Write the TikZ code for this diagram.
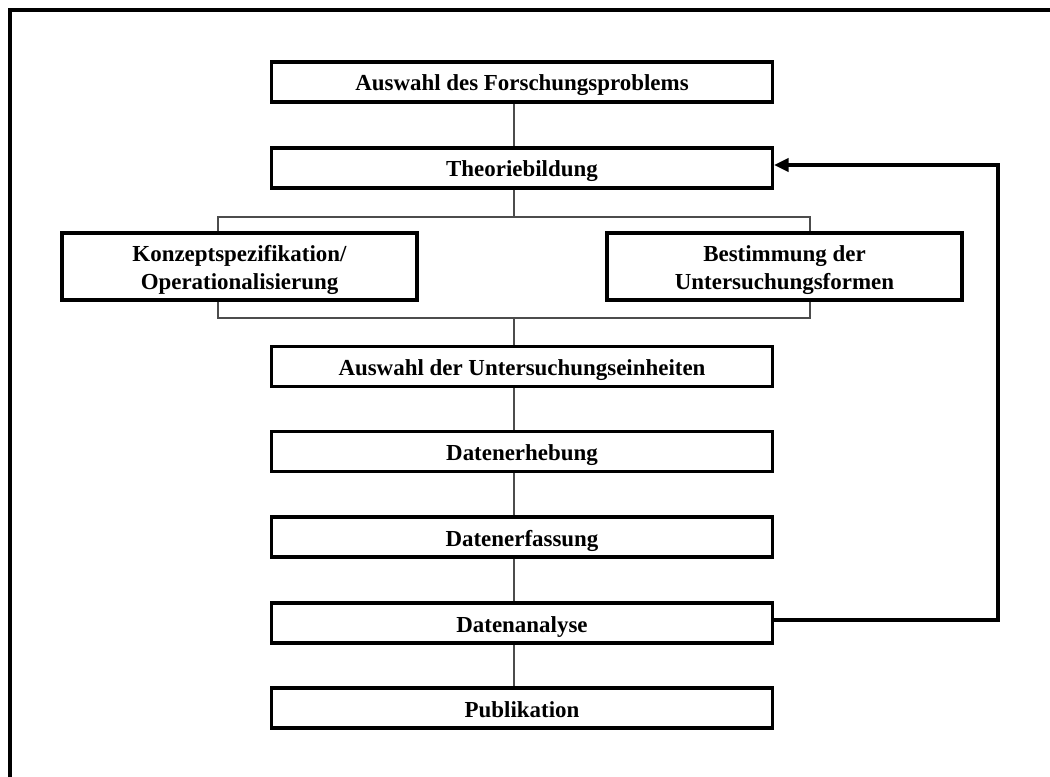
\documentclass[tikz,border=0pt]{standalone}
\usepackage{fontspec}
\setmainfont{Liberation Serif}
\usetikzlibrary{arrows.meta,calc}
\newcommand{\twoline}[2]{\raisebox{-2.6pt}[\height][\depth]{\begin{tabular}{@{}c@{}}#1\\#2\end{tabular}}}
\begin{document}
\begin{tikzpicture}[x=0.75pt,y=-0.75pt,
  box/.style={draw=black,line width=2.3pt,fill=white,minimum width=375.75pt,minimum height=30pt,inner sep=0pt,font=\bfseries\fontsize{17.2}{21}\selectfont,text height=13.5pt,text depth=0pt},
  widebox/.style={draw=black,line width=2.3pt,fill=white,minimum width=266.25pt,minimum height=50.25pt,inner sep=0pt,font=\bfseries\fontsize{17.2}{21}\selectfont},
  conn/.style={draw=black!70,line width=1.1pt},
  fb/.style={draw=black,line width=2.3pt}]
\useasboundingbox (0,0) rectangle (1050,777);
\draw[line width=2.3pt] (10,777) -- (10,10) -- (1050,10);
\node[box] (b1) at (522,82) {Auswahl des Forschungsproblems};
\node[box] (b2) at (522,168) {Theoriebildung};
\node[widebox] (bl) at (239.5,266.5) {\twoline{Konzeptspezifikation/}{Operationalisierung}};
\node[widebox] (br) at (784.5,266.5) {\twoline{Bestimmung der}{Untersuchungsformen}};
\node[box] (b3) at (522,366.5) {Auswahl der Untersuchungseinheiten};
\node[box] (b4) at (522,451.5) {Datenerhebung};
\node[box] (b5) at (522,537) {Datenerfassung};
\node[box] (b6) at (522,623) {Datenanalyse};
\node[box] (b7) at (522,708) {Publikation};
\coordinate (sp) at (514,0);
\coordinate (tl) at (218,217);
\coordinate (tr) at (810,217);
\coordinate (ul) at (218,318);
\coordinate (ur) at (810,318);
\coordinate (fbx) at (998,0);
\draw[conn] (b1.south -| sp) -- (b2.north -| sp);
\draw[conn] (b2.south -| sp) -- (tl -| sp);
\draw[conn] (bl.north -| tl) -- (tl) -- (tr) -- (br.north -| tr);
\draw[conn] (bl.south -| ul) -- (ul) -- (ur) -- (br.south -| ur);
\draw[conn] (ul -| sp) -- (b3.north -| sp);
\draw[conn] (b3.south -| sp) -- (b4.north -| sp);
\draw[conn] (b4.south -| sp) -- (b5.north -| sp);
\draw[conn] (b5.south -| sp) -- (b6.north -| sp);
\draw[conn] (b6.south -| sp) -- (b7.north -| sp);
\draw[fb,-{Triangle[length=11pt,width=10pt]}] ($(b6.east)+(0,-3)$) -| ($(fbx)+(0,165)$) -- ($(b2.east)+(0,-3)$);
\end{tikzpicture}
\end{document}
